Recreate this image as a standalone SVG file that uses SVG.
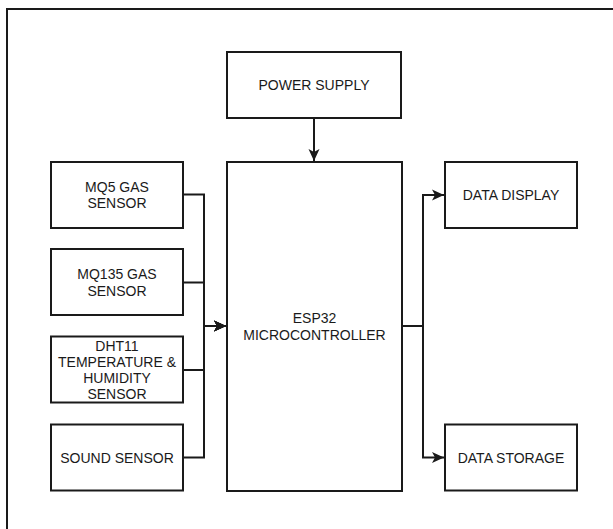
<svg xmlns="http://www.w3.org/2000/svg" width="613" height="529" viewBox="0 0 613 529">
<defs>
<style>
.box{fill:#fff;stroke:#1a1a1a;stroke-width:2}
.t{font-family:"Liberation Sans",Arial,sans-serif;font-size:14px;fill:#1a1a1a;text-anchor:middle}
.c{fill:none;stroke:#1a1a1a;stroke-width:2}
.frame{stroke:#1a1a1a;stroke-width:2}
</style>
<marker id="arr" markerUnits="userSpaceOnUse" markerWidth="14" markerHeight="14" viewBox="0 0 14 14" refX="12" refY="7" orient="auto">
<path d="M0,1.5 L12,7 L0,12.5 L3,7 Z" fill="#1a1a1a"/>
</marker>
</defs>
<line class="frame" x1="7" y1="9" x2="613" y2="9"/>
<line class="frame" x1="7" y1="8" x2="7" y2="529"/>
<g id="connectors">
<path class="c" d="M314,118 V161" marker-end="url(#arr)"/>
<path class="c" d="M183,194.5 H204 V326 H226" marker-end="url(#arr)"/>
<path class="c" d="M183,282.5 H204 V326 H226" marker-end="url(#arr)"/>
<path class="c" d="M183,370 H204 V326 H226" marker-end="url(#arr)"/>
<path class="c" d="M183,457.5 H204 V326 H226" marker-end="url(#arr)"/>
<path class="c" d="M402,326 H423 V195 H444" marker-end="url(#arr)"/>
<path class="c" d="M402,326 H423 V457.5 H444" marker-end="url(#arr)"/>
</g>
<g id="power">
<rect class="box" x="227" y="52" width="174" height="66"/>
<text class="t" x="314" y="90">POWER SUPPLY</text>
</g>
<g id="esp32">
<rect class="box" x="227" y="162" width="175" height="329"/>
<text class="t" x="314.5" y="323">ESP32</text>
<text class="t" x="314.5" y="339.5">MICROCONTROLLER</text>
</g>
<g id="mq5">
<rect class="box" x="51" y="162" width="132" height="66"/>
<text class="t" x="117" y="191.5">MQ5 GAS</text>
<text class="t" x="117" y="208">SENSOR</text>
</g>
<g id="mq135">
<rect class="box" x="51" y="249" width="132" height="66"/>
<text class="t" x="117" y="279">MQ135 GAS</text>
<text class="t" x="117" y="295.5">SENSOR</text>
</g>
<g id="dht11">
<rect class="box" x="51" y="336.5" width="132" height="66"/>
<text class="t" x="117" y="350.5">DHT11</text>
<text class="t" x="117" y="366.8">TEMPERATURE &amp;</text>
<text class="t" x="117" y="383.1">HUMIDITY</text>
<text class="t" x="117" y="399.4">SENSOR</text>
</g>
<g id="sound">
<rect class="box" x="51" y="424.5" width="132" height="66"/>
<text class="t" x="117" y="462.5">SOUND SENSOR</text>
</g>
<g id="display">
<rect class="box" x="445" y="162" width="132" height="66"/>
<text class="t" x="511" y="200">DATA DISPLAY</text>
</g>
<g id="storage">
<rect class="box" x="445" y="424.5" width="132" height="66"/>
<text class="t" x="511" y="462.5">DATA STORAGE</text>
</g>
</svg>
